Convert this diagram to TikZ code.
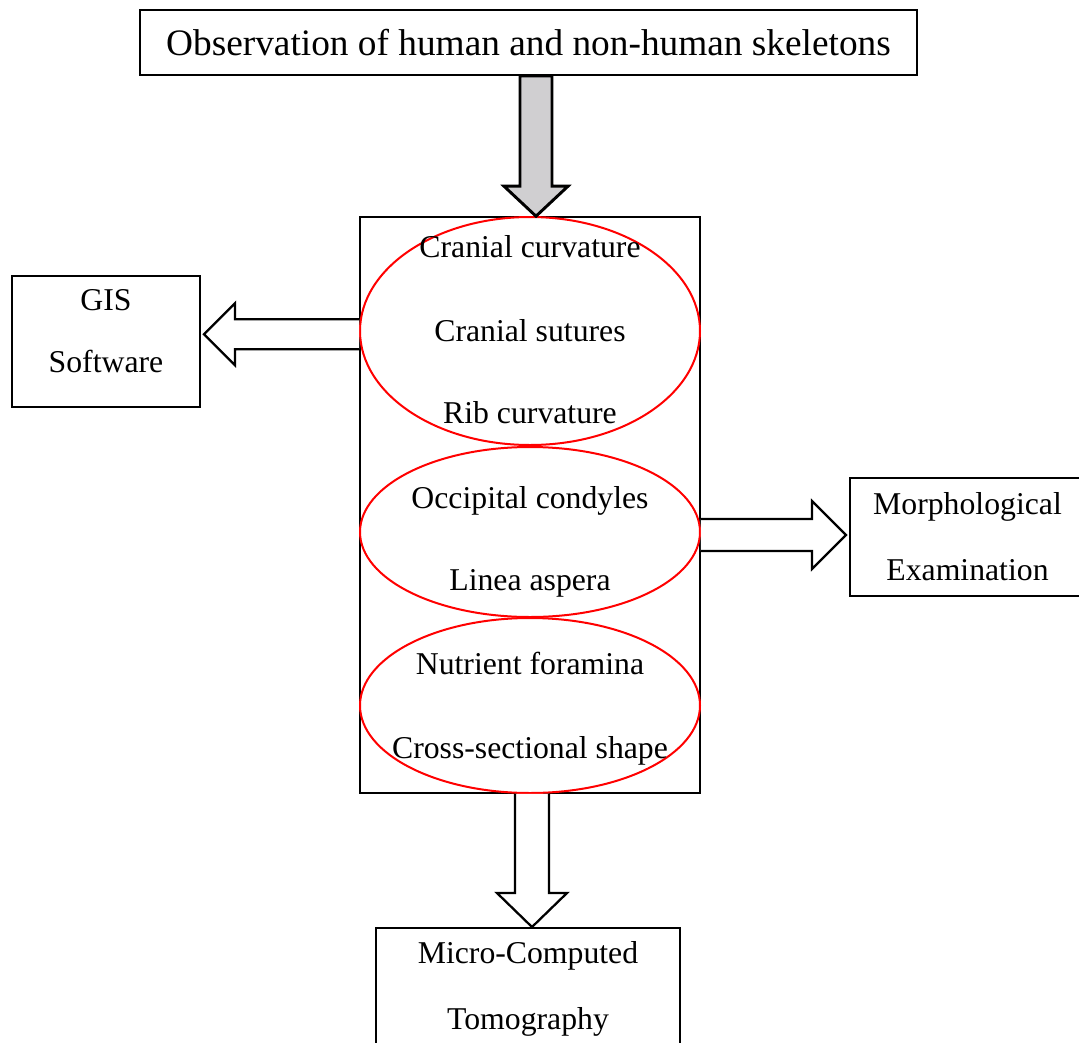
\documentclass[tikz,border=0pt]{standalone}
\usepackage{fontspec}
\setmainfont{Liberation Serif}
\usetikzlibrary{shapes.geometric, calc}
\definecolor{shaftgray}{RGB}{208,207,209}

\begin{document}
\begin{tikzpicture}[
    x=0.75pt, y=-0.75pt,
    box/.style = {rectangle, draw=black, line width=1.5pt, align=center, inner sep=0pt, font=\fontsize{23.8}{49.5}\selectfont},
    ring/.style = {ellipse, draw=red, line width=1.5pt, inner sep=0pt, minimum width=255pt},
    feattext/.style = {font=\fontsize{23.8}{28}\selectfont, inner sep=0pt, text height=15.75pt, text depth=0pt},
    bigarrow/.style = {draw=black, line width=1.7pt, fill=white, line join=miter}
]
    \useasboundingbox (0,0) rectangle (1079,1043);
    \clip (0,0) rectangle (1079,1043);

    % Boxes
    \node [box, minimum width=582.75pt, minimum height=48.75pt, font=\fontsize{28}{32}\selectfont] (obs) at (528.5,42.5) {Observation of human and non-human skeletons};
    \node [box, line width=1.2pt, minimum width=255pt, minimum height=432pt] (feat) at (530,505) {};
    \node [box, minimum width=141pt, minimum height=98.25pt, font=\fontsize{23.8}{46.5}\selectfont] (gis) at (106,341.5) {GIS\\Software\rule[-15.75pt]{0pt}{15.75pt}};
    \node [box, minimum width=176.25pt, minimum height=88.5pt] (morph) at (967.5,537) {Morphological\\Examination};
    \node [box, minimum width=228pt, minimum height=91.5pt] (micro) at (528,989) {Micro-Computed\\Tomography};

    % Ellipses
    \node [ring, minimum height=171pt] (skull) at (530,331) {};
    \node [ring, minimum height=127.5pt] (bones) at (530,532) {};
    \node [ring, minimum height=131.25pt] (shaft) at (530,705.5) {};

    % Features
    \node [feattext] (cranc) at (530,247) {Cranial curvature};
    \node [feattext] (sutur) at (530,331) {Cranial sutures};
    \node [feattext] (ribc) at (530,413) {Rib curvature};
    \node [feattext] (occip) at (530,498) {Occipital condyles};
    \node [feattext] (linea) at (530,580) {Linea aspera};
    \node [feattext] (nutri) at (530,664) {Nutrient foramina};
    \node [feattext] (cross) at (530,748) {Cross-sectional shape};

    % Arrows
    \coordinate (toptip) at ($(feat.north)+(6,0)$);
    \coordinate (topin) at (toptip |- obs.south);
    \draw [bigarrow, line width=2.2pt, fill=shaftgray] ($(topin)+(-16,0)$) -- ($(toptip)+(-16,-30)$) -- ($(toptip)+(-32,-30)$) -- (toptip) -- ($(toptip)+(32,-30)$) -- ($(toptip)+(16,-30)$) -- ($(topin)+(16,0)$) -- cycle;

    \coordinate (gisout) at ($(feat.north west)+(0,118)$);
    \coordinate (gistip) at ($(gis.east |- gisout)+(3,0)$);
    \draw [bigarrow] ($(gisout)+(0,-15)$) -- ($(gistip)+(31,-15)$) -- ($(gistip)+(31,-31)$) -- (gistip) -- ($(gistip)+(31,31)$) -- ($(gistip)+(31,15)$) -- ($(gisout)+(0,15)$);

    \coordinate (morphout) at (feat.east |- morph.west);
    \coordinate (morphtip) at ($(morph.west)+(-3,-2)$);
    \draw [bigarrow] ($(morphout)+(0,-18)$) -- ($(morphtip)+(-34,-16)$) -- ($(morphtip)+(-34,-34)$) -- (morphtip) -- ($(morphtip)+(-34,34)$) -- ($(morphtip)+(-34,16)$) -- ($(morphout)+(0,14)$);

    \coordinate (microin) at ($(feat.south)+(2,0)$);
    \coordinate (microtip) at (microin |- micro.north);
    \draw [bigarrow] ($(microin)+(-17,0)$) -- ($(microtip)+(-17,-34)$) -- ($(microtip)+(-35,-34)$) -- (microtip) -- ($(microtip)+(35,-34)$) -- ($(microtip)+(17,-34)$) -- ($(microin)+(17,0)$);
\end{tikzpicture}
\end{document}
